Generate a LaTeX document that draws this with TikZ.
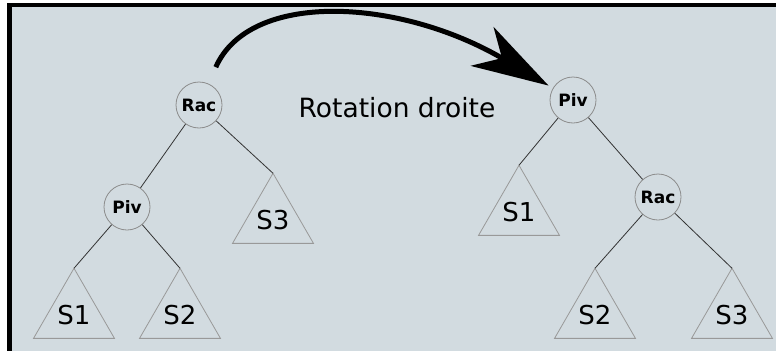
\documentclass[tikz,border=0pt]{standalone}
\usepackage{fontspec}
\setmainfont{DejaVu Sans}
\usetikzlibrary{shapes.geometric, arrows.meta}
\definecolor{fond}{RGB}{210,219,224}

\begin{document}
\begin{tikzpicture}[x=1pt, y=-1pt, line width=0.8pt,
  main/.style = {draw=black!45, circle, fill=fond, minimum size=46pt, inner sep=0pt, font=\bfseries\fontsize{17}{17}\selectfont},
  sub/.style = {draw=black!40, regular polygon, regular polygon sides=3, minimum size=88pt, inner sep=0pt, outer sep=0pt, font=\fontsize{26}{26}\selectfont},
  edge/.style = {draw=black!80}]
\useasboundingbox (0,0) rectangle (776,351);
\fill[white] (0,0) rectangle (776,351);
\fill[black] (7,3) rectangle (776,351);
\fill[fond] (12,7) rectangle (776,351);
% avant
\node[main] (1) at (199,105) {Rac};
\node[main] (2) at (127,207) {Piv};
\node[sub] (3) at (74,315) {S1};
\node[sub] (4) at (180,315) {S2};
\node[sub] (5) at (273,220) {S3};
\draw[edge] (1) -- (2);
\draw[edge] (1) -- (5.corner 1);
\draw[edge] (2) -- (3.corner 1);
\draw[edge] (2) -- (4.corner 1);
% apres
\node[main] (6) at (573,100) {Piv};
\node[main] (7) at (658,197) {Rac};
\node[sub] (8) at (519,212) {S1};
\node[sub] (9) at (595,315) {S2};
\node[sub] (10) at (732,315) {S3};
\draw[edge] (6) -- (7);
\draw[edge] (6) -- (8.corner 1);
\draw[edge] (7) -- (9.corner 1);
\draw[edge] (7) -- (10.corner 1);
% rotation
\node[anchor=base, font=\fontsize{26.5}{26.5}\selectfont] (11) at (397,117) {Rotation droite};
\draw[line width=5pt, -{Stealth[length=77pt, width=45pt, inset=23pt]}, shorten <=18pt, shorten >=5pt]
  (1) .. controls (250,-10) and (400,-2) .. (6);
\end{tikzpicture}
\end{document}
